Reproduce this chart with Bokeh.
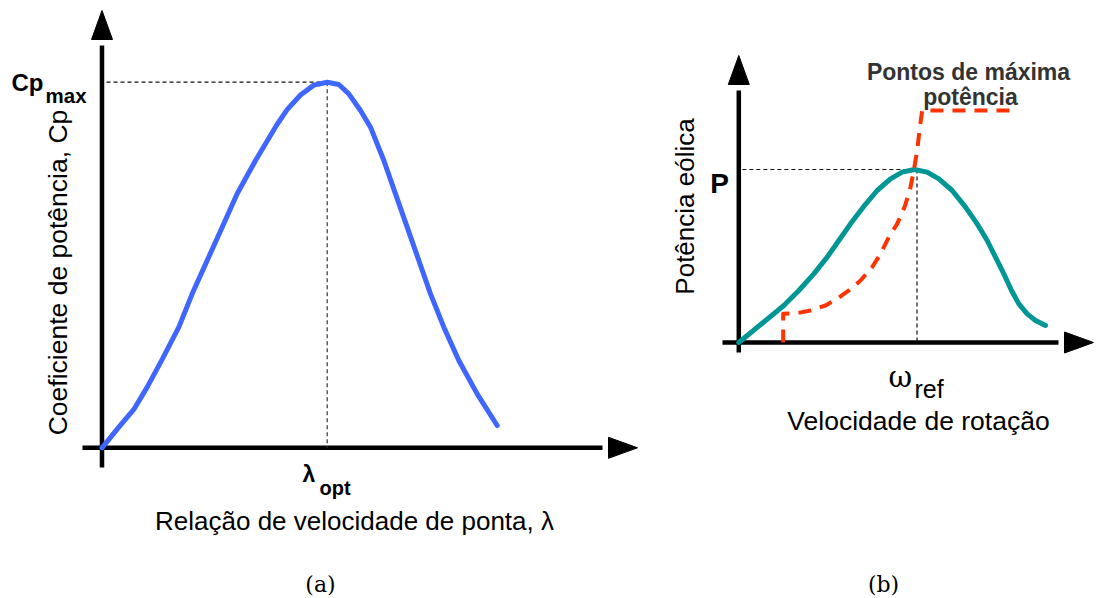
import math
from bokeh.plotting import figure
from bokeh.models import Range1d
from bokeh.layouts import row
from bokeh.core.properties import value
from bokeh.embed import file_html
from bokeh.resources import INLINE

# ---------------- data ----------------
# panel (a): power coefficient vs tip speed ratio (lambda_opt = 1, Cp_max = 1)
lambda_vals = [0, 0.0747, 0.1413, 0.2006, 0.2672, 0.3412, 0.4004, 0.4670,
               0.5336, 0.6002, 0.6816, 0.7778, 0.8222, 0.8814, 0.9406, 1.0,
               1.0516, 1.0960, 1.1479, 1.1923, 1.2515, 1.3033, 1.3551, 1.4069,
               1.4587, 1.5179, 1.5845, 1.6659, 1.7548]
cp_vals = [0, 0.0564, 0.1050, 0.1660, 0.2420, 0.3300, 0.4211, 0.5123,
           0.6035, 0.6947, 0.7858, 0.8850, 0.9250, 0.9650, 0.9920, 1.0,
           0.9937, 0.9682, 0.9226, 0.8770, 0.7858, 0.6947, 0.6035, 0.5123,
           0.4211, 0.3300, 0.2388, 0.1476, 0.0610]

# panel (b): wind power vs rotational speed (omega_ref = 1, P = 1)
omega_vals = [0, 0.2527, 0.3369, 0.4210, 0.4959, 0.5613, 0.6268, 0.6979,
              0.7765, 0.8513, 0.9168, 0.985, 1.0570, 1.1225, 1.1974, 1.2722,
              1.3376, 1.3938, 1.4405, 1.4873, 1.5303, 1.5715, 1.6182, 1.6650,
              1.7211]
power_vals = [0, 0.2139, 0.3006, 0.3969, 0.4932, 0.5896, 0.6859, 0.7823,
              0.8786, 0.9461, 0.9846, 1.0, 0.9846, 0.9461, 0.8786, 0.7823,
              0.6859, 0.5896, 0.4932, 0.3969, 0.3006, 0.2235, 0.1657, 0.1272,
              0.0983]

# maximum power points curve
mpp_omega = [0.2490, 0.2490, 0.3275, 0.4024, 0.4865, 0.5520, 0.6175, 0.6829,
             0.7484, 0.7952, 0.8419, 0.8887, 0.9299, 0.9598, 0.9822, 1.0009,
             1.0140, 1.0290, 1.5621]
mpp_power = [0.0, 0.1657, 0.1696, 0.1850, 0.2139, 0.2524, 0.3006, 0.3584,
             0.4354, 0.5125, 0.6088, 0.6859, 0.7823, 0.8786, 0.9942, 1.1098,
             1.2254, 1.3410, 1.3410]

lambda_opt = 1.0
cp_max = 1.0
omega_ref = 1.0
p_ref = 1.0

# ---------------- layout helpers (positions in picture pixels) ----------------
TOTAL_W, H = 1097, 598
FONT = value("Liberation Sans")
SERIF = value("DejaVu Serif")

A_LEFT, A_W = 0, 652
A_OX, A_OY = 101.5, 447.3
A_SX = (326.7 - A_OX) / lambda_opt
A_SY = (A_OY - 81.7) / cp_max


def ax(sx):
    return (sx - A_OX) / A_SX


def ay(sy):
    return (A_OY - sy) / A_SY


B_LEFT, B_W = A_LEFT + A_W, TOTAL_W - A_W
B_OX, B_OY = 738.3, 342.0
B_SX = (916.5 - B_OX) / omega_ref
B_SY = (B_OY - 169.0) / p_ref


def bx(sx):
    return (sx - B_OX) / B_SX


def by(sy):
    return (B_OY - sy) / B_SY


def make_fig(left, w, fx, fy):
    xr = Range1d(fx(left), fx(left + w))
    yr = Range1d(fy(H), fy(0))
    p = figure(width=w, height=H, x_range=xr, y_range=yr,
               x_axis_type=None, y_axis_type=None,
               toolbar_location=None, output_backend="svg",
               min_border=0, outline_line_color=None,
               background_fill_color="white", border_fill_color="white")
    p.xgrid.visible = False
    p.ygrid.visible = False
    return p


def draw_axes(p, fx, fy, ox, oy, x_start, x_base, x_tip, y_start, y_base, y_tip):
    p.line([fx(ox), fx(ox)], [fy(y_start), fy(y_base + 6)], line_color="black",
           line_width=4.5)
    p.line([fx(x_start), fx(x_base - 6)], [fy(oy), fy(oy)], line_color="black",
           line_width=4.5)
    hw = 10.5
    p.patches(
        [[fx(ox - hw), fx(ox + hw), fx(ox)], [fx(x_base), fx(x_base), fx(x_tip)]],
        [[fy(y_base), fy(y_base), fy(y_tip)], [fy(oy - hw), fy(oy + hw), fy(oy)]],
        fill_color="black", line_color="black", line_width=1)


# ---------------- panel (a) ----------------
pa = make_fig(A_LEFT, A_W, ax, ay)
draw_axes(pa, ax, ay, A_OX, A_OY, 82, 608, 637, 467, 39, 10)

pa.line([0.02, lambda_opt], [cp_max, cp_max], line_color="#111111",
        line_width=1.2, line_dash="4 3")
pa.line([lambda_opt, lambda_opt], [cp_max, 0], line_color="#333333",
        line_width=1.2, line_dash="4 3")
pa.line(lambda_vals, cp_vals, line_color="#3F66FF", line_width=5,
        line_join="round", line_cap="round")

pa.text([ax(11)], [ay(82)], text=["Cp"], text_font=FONT, text_font_style="bold",
        text_font_size="24px", text_align="left", text_baseline="alphabetic",
        text_color="black")
pa.text([ax(45)], [ay(95)], text=["max"], text_font=FONT, text_font_style="bold",
        text_font_size="20.5px", text_align="left", text_baseline="alphabetic",
        text_color="black")
pa.text([ax(302)], [ay(473)], text=["λ"], text_font=FONT, text_font_style="bold",
        text_font_size="23px", text_align="left", text_baseline="alphabetic",
        text_color="black")
pa.text([ax(319)], [ay(487)], text=["opt"], text_font=FONT, text_font_style="bold",
        text_font_size="20px", text_align="left", text_baseline="alphabetic",
        text_color="black")
pa.text([ax(354)], [ay(520)], text=["Relação de velocidade de ponta, λ"],
        text_font=FONT, text_font_size="26px", text_align="center",
        text_baseline="alphabetic", text_color="black")
pa.text([ax(57)], [ay(272)], text=["Coeficiente de potência, Cp"], angle=math.pi / 2,
        text_font=FONT, text_font_size="26.5px", text_align="center",
        text_baseline="middle", text_color="black")
pa.text([ax(320)], [ay(584)], text=["(a)"], text_font=SERIF, text_font_size="22px",
        text_align="center", text_baseline="middle", text_color="black")

# ---------------- panel (b) ----------------
pb = make_fig(B_LEFT, B_W, bx, by)
draw_axes(pb, bx, by, B_OX, B_OY, 722, 1064, 1093, 352, 84, 55)

pb.line([0.02, omega_ref], [p_ref, p_ref], line_color="#111111",
        line_width=1.2, line_dash="4 3")
pb.line([omega_ref, omega_ref], [p_ref, 0], line_color="#111111",
        line_width=1.2, line_dash="4 3")
pb.line(omega_vals, power_vals, line_color="#009696", line_width=5,
        line_join="round", line_cap="round")
pb.line(mpp_omega, mpp_power, line_color="#FF3300", line_width=4,
        line_dash="13 9", line_join="round")

pb.text([bx(719)], [by(183)], text=["P"], text_font=FONT, text_font_style="bold",
        text_font_size="28px", text_align="center", text_baseline="alphabetic",
        text_color="black")
pb.text([bx(888)], [by(376)], text=["ω"], text_font=SERIF,
        text_font_size="29px", text_align="left", text_baseline="alphabetic",
        text_color="black")
pb.text([bx(914)], [by(388)], text=["ref"], text_font=FONT,
        text_font_size="25px", text_align="left", text_baseline="alphabetic",
        text_color="black")
pb.text([bx(918)], [by(420)], text=["Velocidade de rotação"], text_font=FONT,
        text_font_size="26.5px", text_align="center", text_baseline="alphabetic",
        text_color="black")
pb.text([bx(684)], [by(206)], text=["Potência eólica"], angle=math.pi / 2,
        text_font=FONT, text_font_size="26px", text_align="center",
        text_baseline="middle", text_color="black")
pb.text([bx(968), bx(970)], [by(71.5), by(96)],
        text=["Pontos de máxima", "potência"], text_font=FONT,
        text_font_style="bold", text_font_size="23px", text_align="center",
        text_baseline="alphabetic", text_color="#333333")
pb.text([bx(883)], [by(584)], text=["(b)"], text_font=SERIF, text_font_size="22px",
        text_align="center", text_baseline="middle", text_color="black")

layout = row(pa, pb, spacing=0)
open("out.html", "w").write(file_html(layout, INLINE))
